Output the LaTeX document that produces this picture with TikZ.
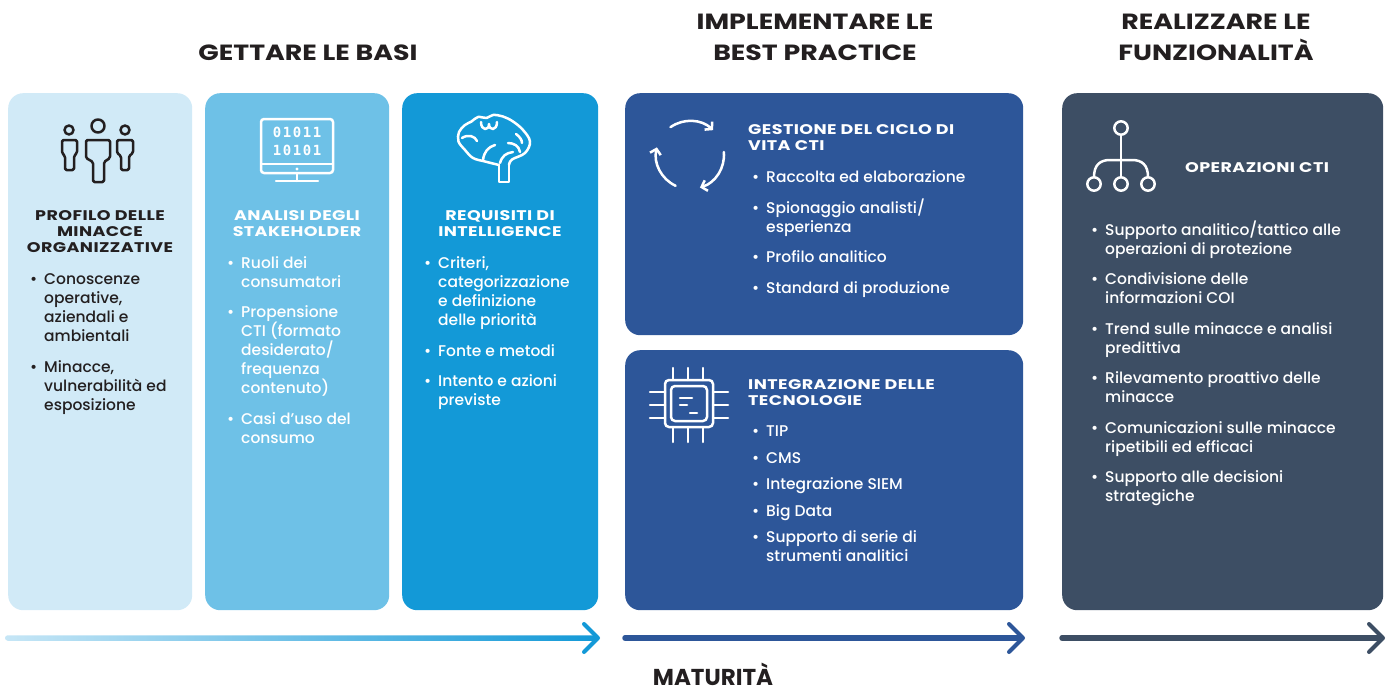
\documentclass[tikz,border=0pt]{standalone}
\usepackage{fontspec}
\setmainfont{Poppins}[UprightFont={* Medium},BoldFont={* Bold}]
\newfontfamily\headfont{Poppins Bold}[FakeStretch=1.22]
\newfontfamily\ttlfont{Poppins Bold}[FakeStretch=1.25,LetterSpace=3]
\newfontfamily\digitfont{DejaVu Sans Mono Bold}
\usetikzlibrary{calc,arrows.meta}

\definecolor{inkdark}{HTML}{231F20}
\definecolor{paleblue}{HTML}{D1EAF7}
\definecolor{skyblue}{HTML}{6EC1E7}
\definecolor{brightblue}{HTML}{1399D7}
\definecolor{navyblue}{HTML}{2D5699}
\definecolor{slategrey}{HTML}{3D4E64}
\definecolor{fadeblue}{HTML}{C6E6F6}

\newcommand{\bul}{\makebox[14pt][l]{\textbullet}}
\newcommand{\ind}{\hspace*{14pt}}
\newcommand{\dg}[1]{\makebox[10pt]{#1}}

\tikzset{
  panel/.style={rounded corners=15pt, inner sep=0pt, anchor=north west},
  ttl/.style={font=\ttlfont\fontsize{14}{16}\selectfont, inner sep=0pt, align=center},
  body/.style={font=\fontsize{15.5}{19}\selectfont, inner sep=0pt, align=left, anchor=north west},
  head/.style={font=\headfont\fontsize{22}{31}\selectfont, text=inkdark, inner sep=0pt, align=center},
  icon/.style={line width=2.5pt, line cap=round, line join=round},
  tl/.style={line width=5.5pt, line cap=round},
  chev/.style={line width=4pt, line cap=round, line join=round}
}

\begin{document}
\begin{tikzpicture}[x=1pt,y=-1pt]

        \useasboundingbox (0,0) rectangle (1397,693);

        % headings
        \node[head, anchor=north] (hbasi) at (308,45) {GETTARE LE BASI};
        \node[head, anchor=north] (hbest) at (815,14) {IMPLEMENTARE LE\\BEST PRACTICE};
        \node[head, anchor=north] (hfunz) at (1216,14) {REALIZZARE LE\\FUNZIONALITÀ};
        \node[head, font=\bfseries\fontsize{23}{28}\selectfont, anchor=base, text depth=0pt] (hmat) at (713,685) {MATURITÀ};

        % panels
        \node[panel, fill=paleblue, minimum width=184, minimum height=517] (p1) at (8,93) {};
        \node[panel, fill=skyblue, minimum width=184, minimum height=517] (p2) at (205,93) {};
        \node[panel, fill=brightblue, minimum width=196, minimum height=517] (p3) at (402,93) {};
        \node[panel, fill=navyblue, minimum width=398, minimum height=242] (p4) at (625,93) {};
        \node[panel, fill=navyblue, minimum width=398, minimum height=260] (p5) at (625,350) {};
        \node[panel, fill=slategrey, minimum width=321, minimum height=517] (p6) at (1062,93) {};

        % panel titles
        \node[ttl, text=inkdark, anchor=north] (t1) at (100,210) {PROFILO DELLE\\MINACCE\\ORGANIZZATIVE};
        \node[ttl, text=white, anchor=north] (t2) at (297,210) {ANALISI DEGLI\\STAKEHOLDER};
        \node[ttl, text=white, anchor=north] (t3) at (500,210) {REQUISITI DI\\INTELLIGENCE};
        \node[ttl, text=white, anchor=north west, align=left] (t4) at (748,124) {GESTIONE DEL CICLO DI\\VITA CTI};
        \node[ttl, text=white, anchor=north west, align=left] (t5) at (748,379) {INTEGRAZIONE DELLE\\TECNOLOGIE};
        \node[ttl, text=white, anchor=west] (t6) at (1185,168) {OPERAZIONI CTI};

        % panel lists
        \node[body, text=inkdark] (l1) at (30,273) {\bul Conoscenze\\ \ind operative,\\ \ind aziendali e\\ \ind ambientali\\[12.5pt]
                \bul Minacce,\\ \ind vulnerabilità ed\\ \ind esposizione};
        \node[body, text=white] (l2) at (227,256) {\bul Ruoli dei\\ \ind consumatori\\[11.5pt]
                \bul Propensione\\ \ind CTI (formato\\ \ind desiderato/\\ \ind frequenza\\ \ind contenuto)\\[11.5pt]
                \bul Casi d’uso del\\ \ind consumo};
        \node[body, text=white] (l3) at (424,256.5) {\bul Criteri,\\ \ind categorizzazione\\ \ind e definizione\\ \ind delle priorità\\[11.5pt]
                \bul Fonte e metodi\\[11.5pt]
                \bul Intento e azioni\\ \ind previste};
        \node[body, text=white] (l4) at (752,170.5) {\bul Raccolta ed elaborazione\\[11.5pt]
                \bul Spionaggio analisti/\\ \ind esperienza\\[11.5pt]
                \bul Profilo analitico\\[11.5pt]
                \bul Standard di produzione};
        \node[body, text=white] (l5) at (752,426) {\bul TIP\\[7.5pt] \bul CMS\\[7.5pt] \bul Integrazione SIEM\\[7.5pt]
                \bul Big Data\\[7.5pt] \bul Supporto di serie di\\ \ind strumenti analitici};
        \node[body, text=white] (l6) at (1091,220.5) {\bul Supporto analitico/tattico alle\\ \ind operazioni di protezione\\[11.5pt]
                \bul Condivisione delle\\ \ind informazioni COI\\[11.5pt]
                \bul Trend sulle minacce e analisi\\ \ind predittiva\\[11.5pt]
                \bul Rilevamento proattivo delle\\ \ind minacce\\[11.5pt]
                \bul Comunicazioni sulle minacce\\ \ind ripetibili ed efficaci\\[11.5pt]
                \bul Supporto alle decisioni\\ \ind strategiche};

        % icon: people
        \draw[icon, inkdark] (69,130) circle (4.5) (98,126) circle (6.5) (125,130) circle (4.5);
        \draw[icon, inkdark, rounded corners=1.5pt] (65,170) -- (65,156) -- (62,153) -- (62,140) -- (77,140) -- (77,153) -- (74,156) -- (74,170) -- cycle;
        \draw[icon, inkdark, rounded corners=1.5pt] (93,182) -- (93,162) -- (86,158) -- (86,140) -- (110,140) -- (110,158) -- (104,162) -- (104,182) -- cycle;
        \draw[icon, inkdark, rounded corners=1.5pt] (121,170) -- (121,156) -- (117,153) -- (117,140) -- (133,140) -- (133,153) -- (129,156) -- (129,170) -- cycle;

        % icon: monitor
        \draw[icon, white, rounded corners=3pt] (261,119) rectangle (333,173);
        \draw[icon, white] (261,164) -- (333,164) (297,173) -- (297,181) (276,181) -- (318,181);
        \fill[white] (297,169) circle (1.6);
        \node[text=white, font=\digitfont\fontsize{14}{18}\selectfont, align=center, inner sep=0pt] (bits) at (297,141)
                {\dg0\dg1\dg0\dg1\dg1\\\dg1\dg0\dg1\dg0\dg1};

        % icon: brain
        \draw[icon, white] plot[smooth, tension=0.6] coordinates {(499,165) (485,161.5) (473,158) (465,150) (458.5,141.5) (459,132)
                (465,125) (471.5,121.5) (478,117) (486.5,118) (493,115) (503,116.5) (513,121.5) (523,130) (530,141.5) (525,153) (512,159.5) (509,165)};
        \draw[icon, white] (499,165) -- (499,182) -- (509,182) -- (509,165);
        \draw[icon, white] (481,122) .. controls (481,131) and (489,131) .. (489,124) .. controls (489,131) and (497,131) .. (497,122);
        \draw[icon, white] (462,138) .. controls (468,134) and (475,136) .. (477,141);
        \draw[icon, white] (483,160) .. controls (484,152) and (488,147) .. (495,145);
        \draw[icon, white] (500,163) .. controls (502,156) and (506,153) .. (513,152);
        \draw[icon, white] (508,143) .. controls (514,143) and (519,146) .. (520,152);
        \draw[icon, white] (516,134) .. controls (520,137) and (522,140) .. (522,143);

        % icon: cycle (y axis points down, so angles run clockwise)
        \foreach \a in {-125,-5,115}
                \draw[icon, white, -{Straight Barb[length=5pt,width=11pt]}] ($(690,155)+(\a:34)$) arc[start angle=\a, end angle=\a+78, radius=34];

        % icon: chip
        \draw[icon, white, rounded corners=4pt] (665,380) rectangle (713,427);
        \draw[icon, white, rounded corners=4pt] (671,386) rectangle (707,421);
        \foreach \p in {673,688,703}
                \draw[icon, white] (\p,368) -- (\p,380) (\p,427) -- (\p,442);
        \foreach \p in {392,405,418}
                \draw[icon, white] (650,\p) -- (665,\p) (713,\p) -- (728,\p);
        \draw[icon, white] (680,398) -- (692,398) (680,405) -- (687,405) (690,413) -- (697,413);

        % icon: hierarchy
        \draw[icon, white] (1121,128) circle (6.7) (1094,184) circle (6.7) (1121,184) circle (6.7) (1148,184) circle (6.7);
        \draw[icon, white] (1121,135) -- (1121,177);
        \draw[icon, white] (1094,177) .. controls (1094,165) and (1100,160) .. (1110,160) -- (1132,160) .. controls (1142,160) and (1148,165) .. (1148,177);

        % timeline arrows
        \coordinate (a1s) at (5,638);   \coordinate (a1e) at (598,638);
        \coordinate (a2s) at (625,638); \coordinate (a2e) at (1023,638);
        \coordinate (a3s) at (1062,638); \coordinate (a3e) at (1383,638);

        \shade[left color=fadeblue, right color=brightblue, rounded corners=2.75pt] ($(a1s)+(0,-2.75)$) rectangle ($(a1e)+(-2,2.75)$);
        \draw[chev, brightblue] ($(a1e)+(-14,-14)$) -- (a1e) -- ($(a1e)+(-14,14)$);
        \draw[tl, navyblue] (a2s) -- ($(a2e)+(-2,0)$);
        \draw[chev, navyblue] ($(a2e)+(-14,-14)$) -- (a2e) -- ($(a2e)+(-14,14)$);
        \draw[tl, slategrey] (a3s) -- ($(a3e)+(-2,0)$);
        \draw[chev, slategrey] ($(a3e)+(-14,-14)$) -- (a3e) -- ($(a3e)+(-14,14)$);

\end{tikzpicture}
\end{document}
